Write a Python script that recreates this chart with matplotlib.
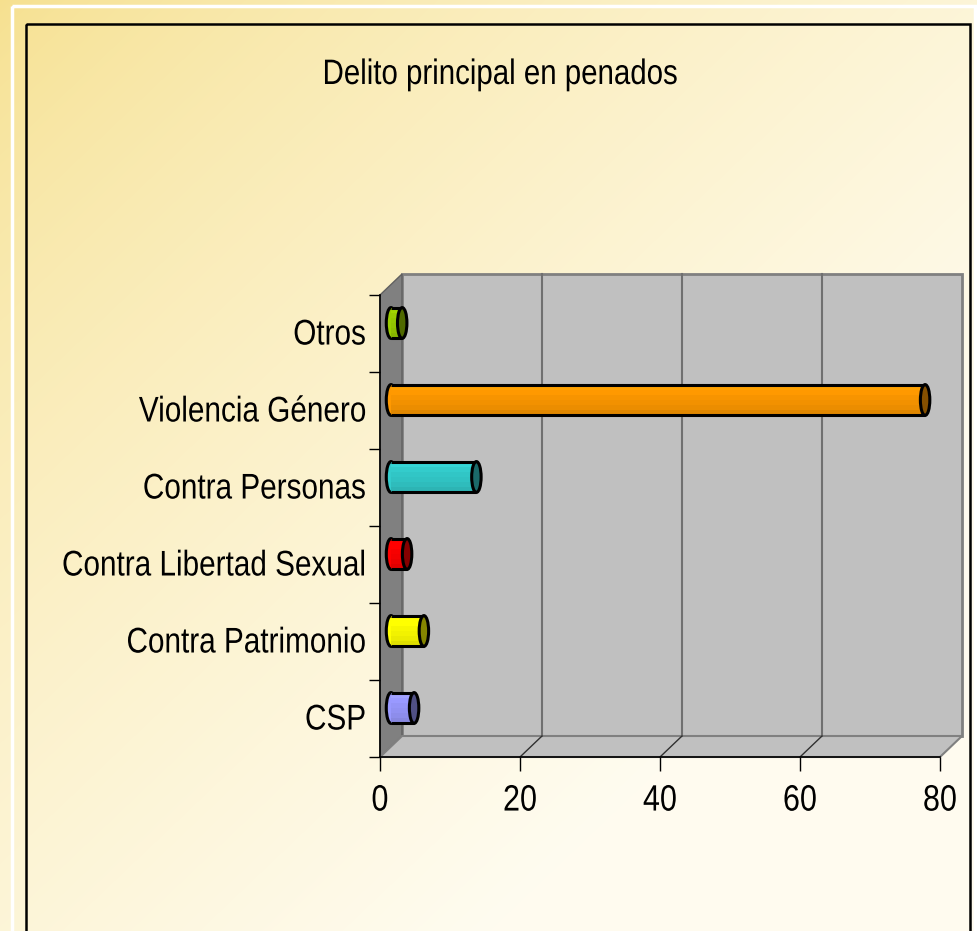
import numpy as np
import matplotlib
matplotlib.use('Agg')
import matplotlib.pyplot as plt
from matplotlib import font_manager
from matplotlib.patches import Rectangle, Ellipse, Polygon
from matplotlib.patheffects import AbstractPathEffect
from matplotlib.transforms import ScaledTranslation, IdentityTransform, Affine2D
from matplotlib.colors import to_rgb

# datos (de abajo hacia arriba)
categorias = ['CSP', 'Contra Patrimonio', 'Contra Libertad Sexual',
              'Contra Personas', 'Violencia Género', 'Otros']
valores = [3.3, 4.7, 2.3, 12.2, 76.3, 1.6]
colores = ['#9999FF', '#FFFF00', '#FF0000', '#33CCCC', '#FF9900', '#99CC00']
x_ticks = [0, 20, 40, 60, 80]
titulo = 'Delito principal en penados'

W, H, DPI = 978, 931, 100

nombres = {f.name for f in font_manager.fontManager.ttflist}
if 'Liberation Sans Narrow' in nombres:
    fam, fs = ['Liberation Sans Narrow', 'DejaVu Sans'], 25.5
else:
    fam, fs = ['Liberation Sans', 'DejaVu Sans'], 21.4
plt.rcParams['font.family'] = fam


class Estirar(AbstractPathEffect):
    """Estira el texto en vertical desde la línea base (texto alto y estrecho)."""

    def __init__(self, sy):
        super().__init__()
        self.sy = sy

    def draw_path(self, renderer, gc, tpath, affine, rgbFace=None):
        ox, oy = affine.transform((0, 0))
        a = affine + Affine2D().translate(-ox, -oy).scale(1, self.sy).translate(ox, oy)
        renderer.draw_path(gc, tpath, a, rgbFace)


estirar = [Estirar(1.2)]

fig = plt.figure(figsize=(W / DPI, H / DPI), dpi=DPI)

# fondo degradado amarillo -> crema
bg = fig.add_axes([0, 0, 1, 1])
yy, xx = np.mgrid[0:H, 0:W]
t = (xx / W + yy / H) / 2
s = np.clip(t / 0.75, 0, 1) ** 0.7
c0 = np.array([246, 224, 142]) / 255
c1 = np.array([255, 252, 240]) / 255
img = c0 + (c1 - c0) * s[..., None]
bg.imshow(img, extent=(0, W, H, 0), aspect='auto', zorder=0)
bg.set_xlim(0, W)
bg.set_ylim(H, 0)
bg.axis('off')
bg.add_patch(Rectangle((12, 6), 963, 940, fill=False, ec='white', lw=2.5, zorder=1))
bg.add_patch(Rectangle((26, 24), 944, 940, fill=False, ec='black', lw=1.8, zorder=1))

# ejes (plano frontal)
x0, x1, ytop, ybot = 380, 940, 295, 757
ax = fig.add_axes([x0 / W, (H - ybot) / H, (x1 - x0) / W, (ybot - ytop) / H])
ax.set_xlim(0, 80)
ax.set_ylim(-0.5, 5.5)
ax.patch.set_visible(False)

dx, dy = 22, 21  # profundidad en px
back_T = ax.transData + ScaledTranslation(dx / DPI, dy / DPI, fig.dpi_scale_trans)
bar_T = ax.transData + ScaledTranslation(dx / 2 / DPI, dy / 2 / DPI, fig.dpi_scale_trans)


def disp(x, y, back=False):
    px, py = ax.transData.transform((x, y))
    if back:
        px, py = px + dx, py + dy
    return (px, py)


ident = IdentityTransform()
# pared del fondo
ax.add_patch(Rectangle((0, -0.5), 80, 6, fc='#C0C0C0', ec='#808080', lw=2,
                       transform=back_T, clip_on=False, zorder=1))
# pared izquierda
ax.add_patch(Polygon([disp(0, -0.5), disp(0, 5.5), disp(0, 5.5, True), disp(0, -0.5, True)],
                     closed=True, fc='#808080', ec='#606060', lw=1, transform=ident,
                     clip_on=False, zorder=1))
# suelo
ax.add_patch(Polygon([disp(0, -0.5), disp(80, -0.5), disp(80, -0.5, True), disp(0, -0.5, True)],
                     closed=True, fc='#C0C0C0', ec='#808080', lw=1.5, transform=ident,
                     clip_on=False, zorder=1))
# rejilla
for xv in x_ticks[1:-1]:
    ax.plot([xv, xv], [-0.5, 5.5], color='#707070', lw=1.5, transform=back_T,
            clip_on=False, zorder=2)
    p, q = disp(xv, -0.5), disp(xv, -0.5, True)
    ax.plot([p[0], q[0]], [p[1], q[1]], color='#303030', lw=1, transform=ident,
            clip_on=False, zorder=2)

# barras cilíndricas
h = 0.40
ew = 1.35
shades = [1.05, 1.0, 0.97, 0.95, 0.92, 0.88]
for i, (v, c) in enumerate(zip(valores, colores)):
    base = np.array(to_rgb(c))
    ax.add_patch(Ellipse((0, i), ew, h, fc=base, ec='black', lw=2.2,
                         transform=bar_T, clip_on=False, zorder=3))
    n = len(shades)
    for k, f in enumerate(shades):
        yc = i + h / 2 - (k + 0.5) * h / n
        ax.barh(yc, v, height=h / n * 1.02, left=0, color=np.clip(base * f, 0, 1),
                transform=bar_T, clip_on=False, zorder=4, lw=0)
    ax.plot([0, v], [i + h / 2, i + h / 2], color='black', lw=2.2,
            transform=bar_T, clip_on=False, zorder=5, solid_capstyle='butt')
    ax.plot([0, v], [i - h / 2, i - h / 2], color='black', lw=2.2,
            transform=bar_T, clip_on=False, zorder=5, solid_capstyle='butt')
    ax.add_patch(Ellipse((v, i), ew, h, fc=base * 0.52, ec='black', lw=2.2,
                         transform=bar_T, clip_on=False, zorder=6))

# ejes y marcas
for side in ['top', 'right']:
    ax.spines[side].set_visible(False)
for side in ['left', 'bottom']:
    ax.spines[side].set_color('black')
    ax.spines[side].set_linewidth(1.2)
    ax.spines[side].set_zorder(7)

ax.set_yticks(np.arange(-0.5, 6, 1))
ax.set_yticklabels([])
ax.set_yticks(range(len(categorias)), minor=True)
ax.set_yticklabels(categorias, minor=True, fontsize=fs)
ax.tick_params(axis='y', which='major', length=8, width=1, direction='out')
ax.tick_params(axis='y', which='minor', length=0, pad=10)

ax.set_xticks(x_ticks)
ax.set_xticklabels([str(x) for x in x_ticks], fontsize=fs + 0.6)
ax.tick_params(axis='x', length=10, width=1, direction='out', pad=12)

for lbl in ax.get_xticklabels() + ax.get_yticklabels(minor=True):
    lbl.set_path_effects(estirar)

fig.text(500 / W, 1 - 84 / H, titulo, ha='center', va='baseline', fontsize=fs - 0.2,
         path_effects=estirar)

fig.savefig('out.png', dpi=DPI)
